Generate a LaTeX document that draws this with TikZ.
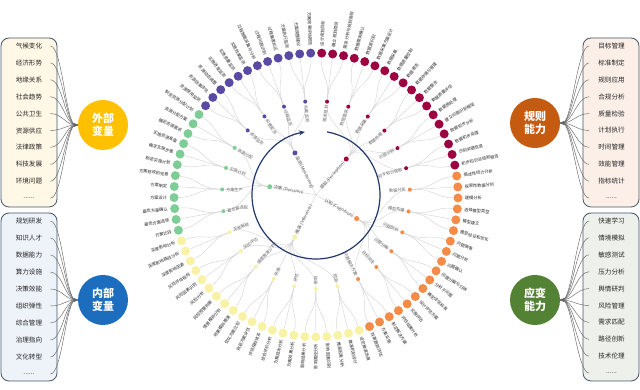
\documentclass[tikz,border=0pt]{standalone}
\usepackage{fontspec}
\setmainfont{Noto Sans CJK SC}
\usetikzlibrary{arrows.meta}
\pgfdeclarelayer{bg}
\pgfsetlayers{bg,main}
\newcommand\mysixdots{......}
\definecolor{cR}{HTML}{9E0142}
\definecolor{cO}{HTML}{F68A47}
\definecolor{cY}{HTML}{F8F2A4}
\definecolor{cG}{HTML}{7FCD96}
\definecolor{cP}{HTML}{5A4AA3}
\definecolor{linkgray}{HTML}{D4D4D4}
\definecolor{navy}{HTML}{22386A}
\definecolor{panelline}{HTML}{44546A}
\definecolor{fillTL}{HTML}{FFF8E6}
\definecolor{fillBL}{HTML}{EEF3FA}
\definecolor{fillTR}{HTML}{FBEFE8}
\definecolor{fillBR}{HTML}{EEF1EB}
\definecolor{gold}{HTML}{FFC000}
\definecolor{blueC}{HTML}{1C6DBE}
\definecolor{rustC}{HTML}{C55A11}
\definecolor{greenC}{HTML}{548235}
\tikzset{
  link/.style={draw=linkgray, line width=0.45pt},
  ldot/.style={circle, inner sep=0pt, minimum size=9pt, draw=none},
  mdot/.style={circle, inner sep=0pt, minimum size=4pt, draw=none},
  cdot/.style={circle, inner sep=0pt, minimum size=5pt, draw=none},
  llab/.style={inner sep=0.3pt, font=\fontsize{4.2}{5}\selectfont, text=black!85},
  mlab/.style={inner sep=0.3pt, font=\fontsize{4.2}{5}\selectfont, text=black!60},
  clab/.style={inner sep=0.3pt, font=\fontsize{4.4}{5}\selectfont, text=black!65},
  panel/.style={draw=panelline, line width=0.8pt, rounded corners=8pt, minimum width=56pt, inner sep=0pt},
  item/.style={inner sep=0pt, text width=26.4pt, align=center, font=\fontsize{6.6}{7}\selectfont, text=black!85},
  conn/.style={draw=black!60, line width=0.45pt, -{Stealth[length=3.5pt,width=3pt]}},
  bigc/.style={circle, inner sep=0pt, minimum size=50pt, text=white, font=\bfseries\fontsize{11}{13.5}\selectfont, align=center},
  cycarrow/.style={draw=navy, line width=1.2pt, -{Stealth[length=6pt,width=5pt]}},
}
\begin{document}
\begin{tikzpicture}[x=1pt,y=1pt]
\useasboundingbox (0,0) rectangle (640,390);

% ---------- radial tree ----------
\begin{scope}[shift={(316,195)}]
\coordinate (ctr) at (0,0);
\foreach \nn/\cc/\ang/\tx in {R/cR/49.92/感知 (Perception), O/cO/-30.08/认知 (Cognition), Y/cY/-116.74/推演 (Inference), G/cG/-190.07/决策 (Decision), P/cP/-243.41/监测 (Monitoring)}{
  \node[cdot, fill=\cc] (C\nn) at (\ang:47) {};
  \pgfmathtruncatemacro\rs{\ang>-90}
  \ifnum\rs=1 \def\anc{east}\pgfmathsetmacro\rot{\ang}\else\def\anc{west}\pgfmathsetmacro\rot{\ang+180}\fi
  \node[clab, rotate=\rot, anchor=\anc] (CL\nn) at (\ang:43.5) {\tx};
  \begin{pgfonlayer}{bg}\draw[link] (ctr) -- (C\nn);\end{pgfonlayer}
}
\foreach \g/\cc/\pp/\ap/\mm/\leafa/\leafb/\leafc in {
 0/cR/R/49.92/需求规划/设计规划目标/确立规划原则/需求分析与规划说明,
 1/cR/R/49.92/数据需求/数据需求确认/数据源识别/数据采集方案设计,
 2/cR/R/49.92/数据采集/数据采集/数据质量控制/数据清洗,
 3/cR/R/49.92/数据处理/数据存储与管理/数据整合/数据质量评估,
 4/cR/R/49.92/问题识别/数据预处理/建立问题识别框架/数据初步分析,
 5/cR/R/49.92/初步知识提取/数据初步处理/识别关键信息/初步知识总结和报告,
 6/cO/O/-30.08/数据分析/描述性统计分析/探索性数据分析/建模分析,
 7/cO/O/-30.08/模型构建/选择模型类型/模型建立/模型验证和优化,
 8/cO/O/-30.08/问题剖析/问题抽象/问题分析/问题确认,
 9/cO/O/-30.08/问题分解/问题分解与归纳/分析子问题/确定评估标准,
 10/cO/O/-30.08/目标设定/设计评估方案/实施评估/评估结果分析,
 11/cO/O/-30.08/问题解决方案/制定解决方案/方案实施/效果跟踪评估,
 12/cY/Y/-116.74/预测/设定推演场景/推演机制设计/推演因素分析,
 13/cY/Y/-116.74/影响/影响因素识别/影响路径分析/影响结果分析,
 14/cY/Y/-116.74/评估/方案效果分析/方案成本分析/综合评价分析,
 15/cY/Y/-116.74/仿真/评估指标体系/效益方案评估/优化方案比较,
 16/cY/Y/-116.74/情景推演分析/效果模拟推演/情景模拟分析/风险预警判断,
 17/cY/Y/-116.74/风险评估/风险分析/风险因素识别/风险评估指标,
 18/cY/Y/-116.74/深度解释/深度影响因素/深度影响路径分析/深度影响分析,
 19/cG/G/-190.07/最优解选取/方案比较/最优方案选择/最优方案确认,
 20/cG/G/-190.07/方案生产/方案设计/方案制定/方案修改和完善,
 21/cG/G/-190.07/实施计划/制定实施计划/确定实施步骤/实施资源准备,
 22/cG/G/-190.07/资源分配/确定资源需求/资源分配方案/制定资源分配计划,
 23/cP/P/-243.41/资源监测/资源使用监测/资源效果评估/资源动态调整,
 24/cP/P/-243.41/实施监测/实施进度监测/实施质量监测/实施效果监测,
 25/cP/P/-243.41/过程监测/过程数据采集与分析/过程问题识别/过程偏差纠正,
 26/cP/P/-243.41/方案监测/方案执行监测/方案调整建议/方案效果评估报告}{
  \pgfmathsetmacro\am{83.256-13.33333*\g}
  \pgfmathtruncatemacro\rs{\am>-90}
  \ifnum\rs=1 \def\ianc{east}\pgfmathsetmacro\irot{\am}\else\def\ianc{west}\pgfmathsetmacro\irot{\am+180}\fi
  \node[mdot, fill=\cc] (M\g) at (\am:94) {};
  \node[mlab, rotate=\irot, anchor=\ianc] (ML\g) at (\am:90.5) {\mm};
  \begin{pgfonlayer}{bg}
    \draw[link] (C\pp) .. controls (\ap:70.5) and (\am:70.5) .. (M\g);
  \end{pgfonlayer}
  \foreach \lab [count=\k from 0] in {\leafa,\leafb,\leafc}{
    \pgfmathtruncatemacro\ii{3*\g+\k}
    \pgfmathsetmacro\al{87.7-4.444444*\ii}
    \pgfmathtruncatemacro\ls{\al>-90}
    \ifnum\ls=1 \def\lanc{west}\pgfmathsetmacro\lrot{\al}\else\def\lanc{east}\pgfmathsetmacro\lrot{\al+180}\fi
    \node[ldot, fill=\cc] (L\ii) at (\al:142) {};
    \node[llab, rotate=\lrot, anchor=\lanc] (LL\ii) at (\al:148.5) {\lab};
    \begin{pgfonlayer}{bg}
      \draw[link] (M\g) .. controls (\am:118) and (\al:118) .. (L\ii);
    \end{pgfonlayer}
  }
}
\draw[cycarrow] (80:64) arc[start angle=80, end angle=-260, radius=64];
\end{scope}

% ---------- corner panels ----------
\node[panel, fill=fillTL, minimum height=169pt] (PTL) at (29,267.5) {};
\node[panel, fill=fillBL, minimum height=168pt] (PBL) at (29,93) {};
\node[panel, fill=fillTR, minimum height=169pt] (PTR) at (611,267.5) {};
\node[panel, fill=fillBR, minimum height=168pt] (PBR) at (611,93) {};

\node[bigc, fill=gold] (CTL) at (103,265) {外部\\变量};
\node[bigc, fill=blueC] (CBL) at (103,90) {内部\\变量};
\node[bigc, fill=rustC] (CTR) at (535,267) {规则\\能力};
\node[bigc, fill=greenC] (CBR) at (535,90) {应变\\能力};

\foreach \tx [count=\k from 0] in {气候变化,经济形势,地缘关系,社会趋势,公共卫生,资源供应,法律政策,科技发展,环境问题,\mysixdots}{
  \node[item] (tl\k) at (29,{344-16.9*\k}) {\tx};
  \draw[conn] ([xshift=8pt]tl\k.east) .. controls +(12,0) and ([xshift=-12pt]CTL.west) .. (CTL.west);
}
\foreach \tx [count=\k from 0] in {规划研发,知识人才,数据能力,算力设施,决策效能,组织弹性,综合管理,治理指向,文化转型,\mysixdots}{
  \node[item] (bl\k) at (29,{169-17*\k}) {\tx};
  \draw[conn] ([xshift=8pt]bl\k.east) .. controls +(12,0) and ([xshift=-12pt]CBL.west) .. (CBL.west);
}
\foreach \tx [count=\k from 0] in {目标管理,标准制定,规则应用,合规分析,质量检验,计划执行,时间管理,效能管理,指标统计,\mysixdots}{
  \node[item] (tr\k) at (611.5,{344-16.9*\k}) {\tx};
  \draw[conn] ([xshift=-9pt]tr\k.west) .. controls +(-12,0) and ([xshift=12pt]CTR.east) .. (CTR.east);
}
\foreach \tx [count=\k from 0] in {快速学习,情境模拟,敏感测试,压力分析,舆情研判,风险管理,需求匹配,路径创新,技术伦理,\mysixdots}{
  \node[item] (br\k) at (611.5,{169-16.9*\k}) {\tx};
  \draw[conn] ([xshift=-9pt]br\k.west) .. controls +(-12,0) and ([xshift=12pt]CBR.east) .. (CBR.east);
}
\end{tikzpicture}
\end{document}
